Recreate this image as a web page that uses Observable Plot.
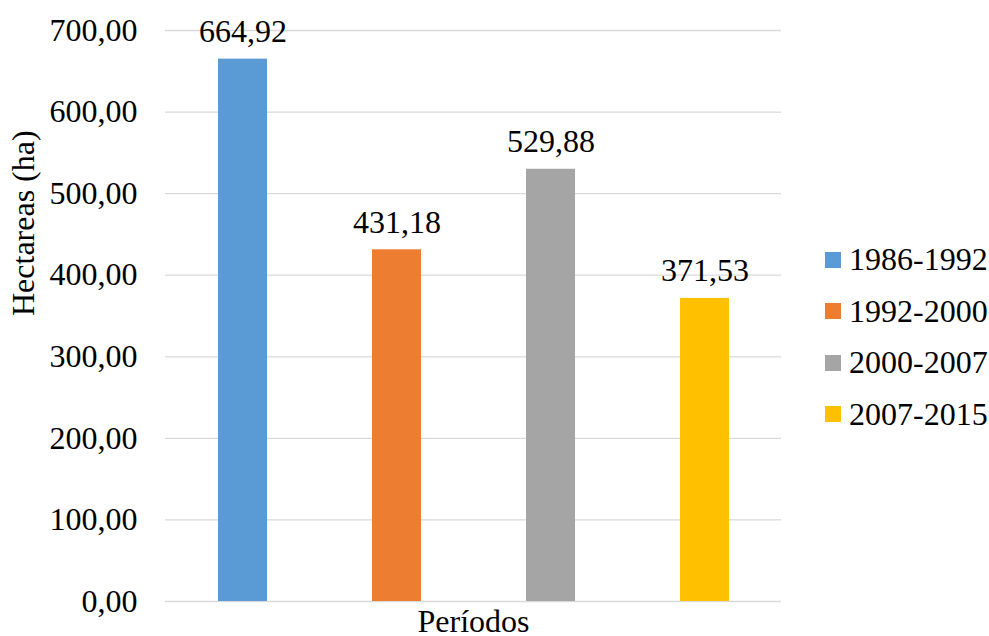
<!DOCTYPE html>
<html><head><meta charset="utf-8">
<script src="https://cdn.jsdelivr.net/npm/d3@7"></script>
<script src="https://cdn.jsdelivr.net/npm/@observablehq/plot@0.6"></script>
<style>
html,body{margin:0;padding:0;background:#fff;font-family:'Liberation Serif',serif;}
#wrap{position:relative;width:989px;height:636px;font-family:'Liberation Serif',serif;}
#legend{position:absolute;left:825px;top:234px;font-family:'Liberation Serif',serif;}
.item{display:flex;align-items:center;height:51.5px;font-size:32px;color:#000;white-space:nowrap;font-family:'Liberation Serif',serif;}
.sw{width:16px;height:16px;margin-right:8px;flex:none;}
svg text{font-family:'Liberation Serif',serif;}
</style></head><body><div id="wrap"><div id="chart"></div><div id="legend"></div></div>
<script>
const periods = ["1986-1992", "1992-2000", "2000-2007", "2007-2015"];
const hectares = [664.92, 431.18, 529.88, 371.53];
const barColors = ["#5B9BD5", "#ED7D31", "#A5A5A5", "#FFC000"];
const yTicks = [0, 100, 200, 300, 400, 500, 600, 700];
const axisTitleY = "Hectareas (ha)";
const axisTitleX = "Períodos";

const data = periods.map((p, i) => ({period: p, value: hectares[i]}));
const fmt = v => d3.format(".2f")(v).replace(".", ",");
const font = "'Liberation Serif', serif";

const plot = Plot.plot({
  width: 800, height: 636,
  marginLeft: 165, marginRight: 19, marginTop: 30, marginBottom: 35,
  style: {fontFamily: font, fontSize: "32px", color: "#000", background: "#fff", overflow: "visible"},
  x: {domain: periods, paddingInner: 0.682, paddingOuter: 0.341, axis: null},
  y: {domain: [0, 700], axis: null},
  color: {domain: periods, range: barColors},
  marks: [
    Plot.gridY(yTicks, {stroke: "#d9d9d9", strokeOpacity: 1, strokeWidth: 1.3}),
    Plot.axisY(yTicks, {tickSize: 0, tickPadding: 28, tickFormat: fmt, fontSize: 32, fontFamily: font, label: null}),
    Plot.barY(data, {x: "period", y: "value", fill: "period"}),
    Plot.text(data, {x: "period", y: "value", text: d => fmt(d.value), lineAnchor: "bottom", dy: -17, fontSize: 32, fontFamily: font, fill: "#000"}),
    Plot.text([axisTitleY], {frameAnchor: "left", text: d => d, rotate: -90, dx: -142, fontSize: 32, fontFamily: font, lineAnchor: "middle", fill: "#000"}),
    Plot.text([axisTitleX], {frameAnchor: "bottom", text: d => d, dy: 30, lineAnchor: "bottom", fontSize: 32, fontFamily: font, fill: "#000"})
  ]
});
document.getElementById("chart").appendChild(plot);

const color = plot.scale("color");
const legend = document.getElementById("legend");
color.domain.forEach((name, i) => {
  const item = document.createElement("div");
  item.className = "item";
  const sw = document.createElement("span");
  sw.className = "sw";
  sw.style.background = color.range[i];
  const label = document.createElement("span");
  label.textContent = name;
  label.style.fontFamily = font;
  item.appendChild(sw);
  item.appendChild(label);
  legend.appendChild(item);
});
</script></body></html>
